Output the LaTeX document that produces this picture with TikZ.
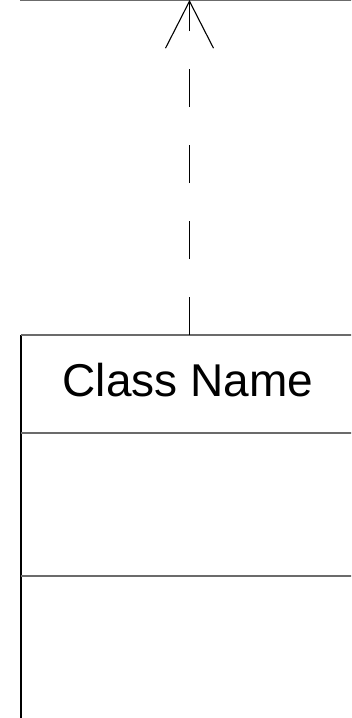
\documentclass[tikz,border=0pt]{standalone}
\usepackage{fontspec}
\setmainfont{Liberation Sans}
\usetikzlibrary{arrows.meta}
\definecolor{linegray}{HTML}{6B6B6B}
\def\boxleft{21}
\def\boxright{358}
\def\midx{189.5}

\begin{document}
\begin{tikzpicture}[x=1pt, y=-1pt,
    sep/.style={linegray, line width=2},
    realize/.style={black, line width=1.1, dash pattern=on 38 off 38,
      -{Straight Barb[length=47, width=48, line width=1.1]}}]
    \useasboundingbox (0,0) rectangle (351,718);
    \clip (0,0) rectangle (351,718);
    % parent class, only its lower edge shows
    \draw[linegray, line width=1.5] (\boxleft,-100) rectangle (\boxright,0);
    \coordinate (parent) at (\midx,0);
    % class box
    \coordinate (clstop) at (\midx,335);
    \draw[black, line width=1.3] (\boxleft,335) -- (\boxleft,800);
    \draw[sep] (\boxleft,335) -- (\boxright,335);
    \draw[sep] (\boxleft,432.5) -- (\boxright,432.5);
    \draw[sep] (\boxleft,575.5) -- (\boxright,575.5);
    \node[font=\fontsize{46}{50}\selectfont, anchor=base, inner sep=0] (clsname) at (188,396.5) {Class Name};
    % realization
    \draw[realize] (clstop) -- (parent);
  \end{tikzpicture}
\end{document}
